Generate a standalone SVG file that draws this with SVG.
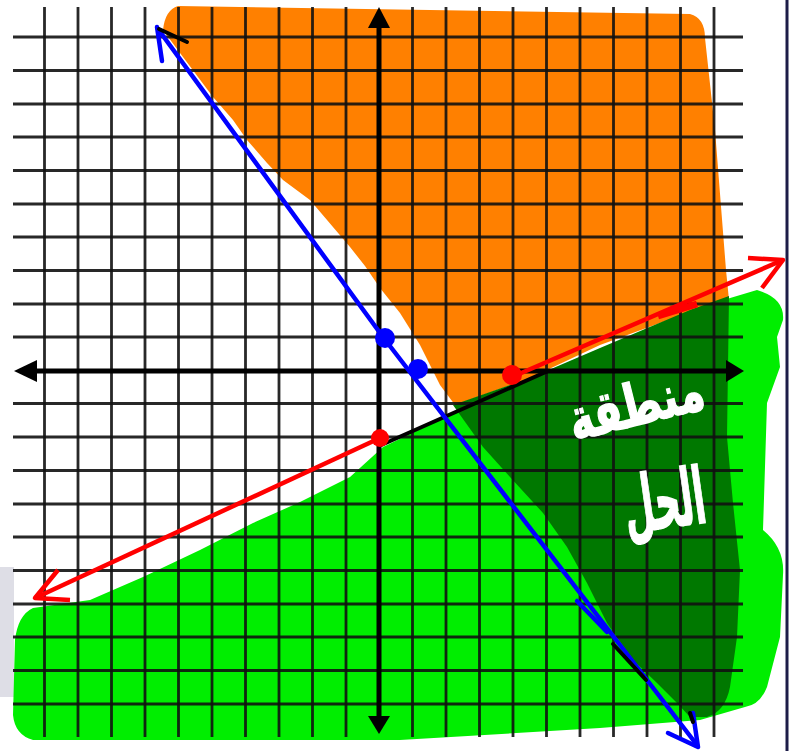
<svg xmlns="http://www.w3.org/2000/svg" width="795" height="751" viewBox="0 0 795 751">
<defs>
<style>
.grid{fill:none;stroke:#111;stroke-width:2.8;stroke-opacity:0.9}
.axis{fill:none;stroke:#000;stroke-width:5}
.ah{fill:#000}
.blue{fill:none;stroke:#0000ff;stroke-width:4.5;stroke-linecap:round;stroke-linejoin:round}
.red{fill:none;stroke:#ff0000;stroke-width:4.5;stroke-linecap:butt;stroke-linejoin:round}
.blk{fill:none;stroke:#000;stroke-width:4;stroke-linecap:round}
.lbl{fill:#fff;stroke:#fff;stroke-width:1.5;font-family:"DejaVu Sans","Noto Sans",sans-serif;font-weight:bold}
</style>
</defs>
<rect width="795" height="751" fill="#fff"/>
<rect x="0" y="567" width="14" height="130" fill="#dedee6"/>
<line x1="787" y1="0" x2="787" y2="751" stroke="#1c1c48" stroke-width="3"/>

<g id="regions">
<path id="orange" fill="#ff8000" d="M178,6 L690,14 Q705,18 705,38 L715,130 L726,270 L729,300 L690,312 L600,345 L530,378 L455,405 L440,385 L420,345 L400,313 L380,288 L365,266 L350,247 L310,200 L283,180 L267,163 L247,140 L233,120 L213,97 L180,53 L163,30 Q165,10 178,6 Z"/>
<path id="green" fill="#00ee00" d="M33,608 L90,600 L143,577 L200,550 L253,523 L300,502 L350,477 L383,447 L460,410 L600,350 L700,307 L757,290 Q785,298 783,320 L777,337 L780,367 L767,403 L763,530 Q785,548 783,575 L780,637 L767,687 Q760,705 745,707 L700,720 L600,728 L400,740 L33,740 Q15,735 13,715 L15,640 Q18,615 33,608 Z"/>
<path id="solution" fill="#007800" d="M453,405 L530,378 L600,348 L690,310 L729,296 L727,437 L733,503 L740,570 L737,637 L730,687 Q725,712 707,717 L690,717 L677,703 L657,683 L633,660 L607,623 L587,583 L567,547 L543,513 L510,477 L483,447 Z"/>
</g>

<g id="grid">
<path class="grid" d="M44.5,7V737M78,7V737M111.5,7V737M145,7V737M178.5,7V737M212,7V737M245.5,7V737M279,7V737M312.5,7V737M346,7V737M412.5,7V737M446,7V737M479.5,7V737M513,7V737M546.5,7V737M580,7V737M613.5,7V737M647,7V737M680.5,7V737M714,7V737"/>
<path class="grid" d="M13,37H743M13,70.5H743M13,104H743M13,137H743M13,170.5H743M13,204H743M13,237H743M13,270.5H743M13,304H743M13,337H743M13,403.5H743M13,437H743M13,470.5H743M13,504H743M13,537H743M13,570.5H743M13,604H743M13,637H743M13,670.5H743M13,704H743"/>
</g>

<g id="axes">
<line class="axis" x1="30" y1="371" x2="730" y2="371"/>
<line class="axis" x1="379" y1="22" x2="379" y2="722"/>
<polygon class="ah" points="14,371 37,360 37,382"/>
<polygon class="ah" points="744,371 726,360 726,382"/>
<polygon class="ah" points="379,7 368,28 390,28"/>
<polygon class="ah" points="379,734 368,716 390,716"/>
</g>

<g id="connectors">
<line class="blk" x1="379" y1="446" x2="548" y2="371"/>
<polyline class="blue" points="158,29 383,337 697,745"/>
<polyline class="blue" points="162,61 157,27"/>
<line class="blk" x1="159" y1="29" x2="187" y2="42"/>
<polyline class="blue" points="668,733 698,747 693,713"/>
<line class="blk" x1="690" y1="713" x2="693" y2="722"/>
<line class="blk" x1="613" y1="644" x2="646" y2="680"/>
<line class="blue" x1="577" y1="601" x2="607" y2="632"/>
<line class="red" x1="35" y1="598" x2="380" y2="438"/>
<line class="red" x1="512" y1="377" x2="783" y2="260"/>
<line x1="658" y1="316" x2="697" y2="304" stroke="#ff0000" stroke-width="7"/>
<polyline class="red" points="58,570 35,598 70,600"/>
<polyline class="red" points="748,258 783,260 762,288"/>
</g>

<g id="points">
<circle cx="385" cy="338" r="10" fill="#0000ff"/>
<circle cx="418" cy="369" r="10" fill="#0000ff"/>
<circle cx="380" cy="438" r="9" fill="#ff0000"/>
<circle cx="512" cy="375" r="10" fill="#ff0000"/>
</g>

<g id="label">
<text class="lbl" x="636" y="425" font-size="58" text-anchor="middle" textLength="138" lengthAdjust="spacingAndGlyphs" transform="rotate(-14 636 405)" direction="rtl">منطقة</text>
<text class="lbl" x="664" y="528" font-size="78" text-anchor="middle" textLength="82" lengthAdjust="spacingAndGlyphs" transform="rotate(-8 664 500)" direction="rtl">الحل</text>
</g>
</svg>
